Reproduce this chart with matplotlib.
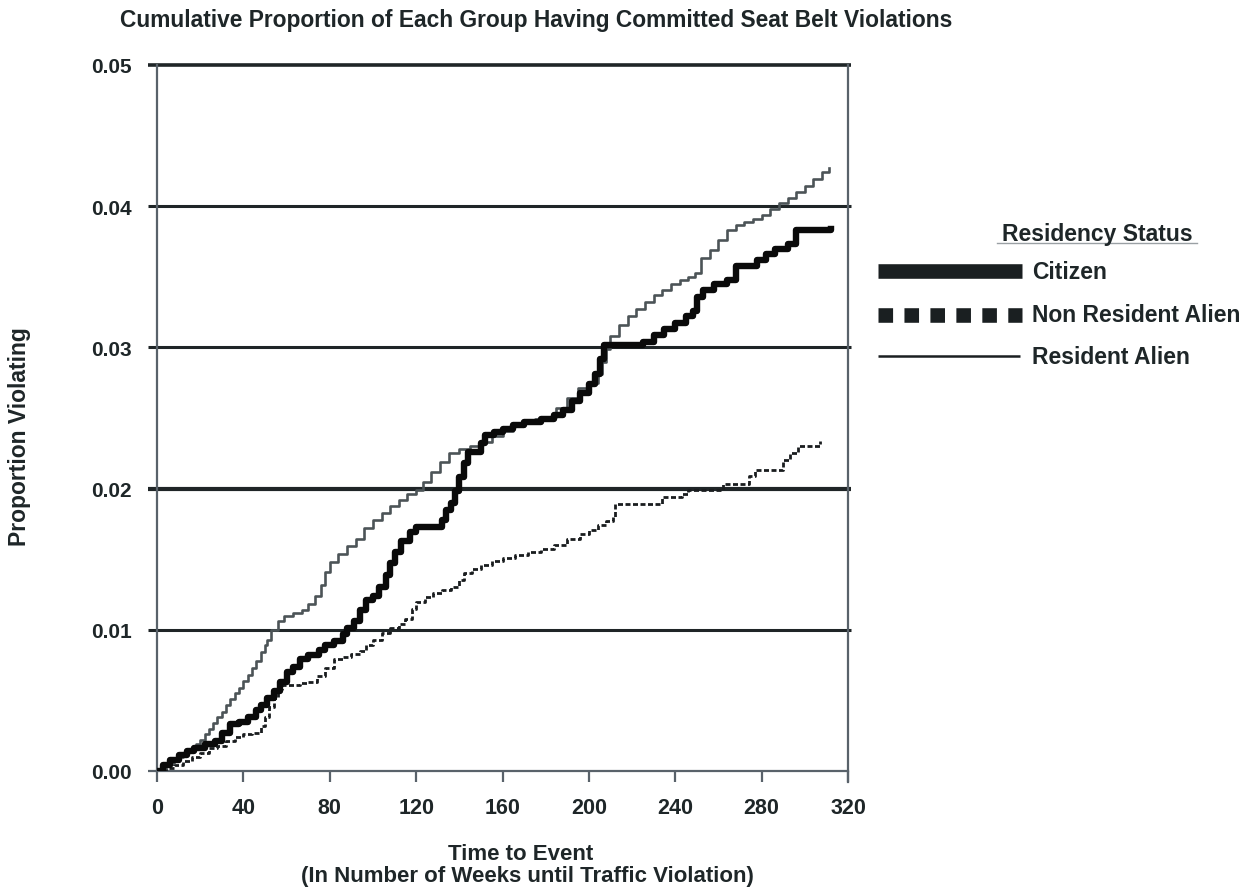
import matplotlib
matplotlib.use("Agg")
import matplotlib.pyplot as plt
from matplotlib.lines import Line2D

plt.rcParams['font.family'] = ['Liberation Sans', 'DejaVu Sans']
plt.rcParams['font.weight'] = 'bold'

TEXT = '#1e2628'
GRID = '#1f2527'
SPINE = '#59626a'

# Cumulative proportion violating, step curves (weeks, proportion)
citizen_weeks = [0, 3, 6, 10, 14, 17, 22, 27, 30, 34, 38, 42, 46, 48, 51, 54, 57, 60,
                 63, 66, 70, 75, 78, 82, 86, 88, 91, 94, 97, 100, 103, 106, 108, 110,
                 113, 117, 120, 132, 134, 136, 138, 140, 142, 144, 150, 152, 156, 160,
                 165, 170, 178, 184, 188, 192, 196, 200, 203, 205, 207, 225, 230, 235,
                 240, 245, 248, 250, 253, 258, 264, 268, 278, 282, 286, 292, 296, 312]
citizen_vals = [0.0, 0.0004, 0.0008, 0.0011, 0.0014, 0.0016, 0.0019, 0.0021, 0.0027,
                0.0033, 0.0035, 0.0038, 0.0043, 0.0047, 0.0052, 0.0057, 0.0063, 0.0070,
                0.0074, 0.0079, 0.0082, 0.0086, 0.0089, 0.0092, 0.0097, 0.0101, 0.0106,
                0.0114, 0.0121, 0.0124, 0.0130, 0.0139, 0.0147, 0.0155, 0.0163, 0.0169,
                0.0173, 0.0178, 0.0185, 0.0190, 0.0198, 0.0208, 0.0218, 0.0226, 0.0232,
                0.0238, 0.0240, 0.0242, 0.0245, 0.0247, 0.0249, 0.0252, 0.0256, 0.0262,
                0.0268, 0.0274, 0.0281, 0.0292, 0.0302, 0.0304, 0.0309, 0.0313, 0.0317,
                0.0322, 0.0326, 0.0336, 0.0341, 0.0345, 0.0348, 0.0358, 0.0362, 0.0366,
                0.0370, 0.0373, 0.0383, 0.0384]

nonres_weeks = [0, 4, 8, 12, 16, 20, 24, 28, 32, 36, 40, 44, 48, 50, 52, 54, 56, 58,
                66, 70, 74, 78, 82, 86, 90, 94, 97, 100, 104, 108, 112, 115, 118, 120,
                124, 128, 132, 136, 140, 142, 146, 150, 155, 160, 166, 172, 178, 184,
                190, 196, 200, 204, 208, 211, 212, 234, 243, 246, 262, 274, 277, 290,
                293, 297, 307]
nonres_vals = [0.0, 0.0002, 0.0004, 0.0007, 0.0010, 0.0013, 0.0016, 0.0018, 0.0021,
               0.0024, 0.0026, 0.0027, 0.0032, 0.0038, 0.0045, 0.0052, 0.0058, 0.0061,
               0.0062, 0.0063, 0.0067, 0.0073, 0.0079, 0.0081, 0.0083, 0.0085, 0.0089,
               0.0093, 0.0098, 0.0101, 0.0104, 0.0108, 0.0115, 0.0120, 0.0123, 0.0126,
               0.0128, 0.0130, 0.0135, 0.0140, 0.0143, 0.0146, 0.0149, 0.0151, 0.0153,
               0.0155, 0.0157, 0.0160, 0.0164, 0.0168, 0.0171, 0.0174, 0.0177, 0.0180,
               0.0189, 0.0194, 0.0196, 0.0199, 0.0203, 0.0209, 0.0213, 0.0220, 0.0225,
               0.0230, 0.0234]

resident_weeks = [0, 2, 4, 6, 8, 10, 12, 14, 16, 18, 20, 22, 24, 26, 28, 30, 32, 34,
                  36, 38, 40, 42, 44, 46, 48, 50, 51, 53, 56, 59, 63, 67, 70, 73, 76,
                  78, 80, 84, 88, 92, 96, 100, 104, 108, 112, 116, 120, 123, 127, 131,
                  135, 140, 145, 150, 155, 160, 165, 170, 175, 180, 185, 190, 195, 200,
                  204, 206, 208, 210, 214, 218, 222, 226, 230, 234, 238, 242, 246, 249,
                  252, 256, 260, 264, 268, 272, 276, 280, 284, 288, 292, 296, 300, 304,
                  308, 311]
resident_vals = [0.0, 0.0002, 0.0004, 0.0006, 0.0008, 0.0010, 0.0012, 0.0014, 0.0016,
                 0.0019, 0.0022, 0.0026, 0.0030, 0.0034, 0.0038, 0.0042, 0.0047, 0.0051,
                 0.0055, 0.0059, 0.0064, 0.0068, 0.0073, 0.0078, 0.0084, 0.0089, 0.0093,
                 0.0100, 0.0106, 0.0110, 0.0112, 0.0114, 0.0118, 0.0124, 0.0132, 0.0141,
                 0.0148, 0.0154, 0.0159, 0.0164, 0.0172, 0.0178, 0.0183, 0.0188, 0.0192,
                 0.0196, 0.0199, 0.0205, 0.0212, 0.0219, 0.0225, 0.0228, 0.0230, 0.0233,
                 0.0237, 0.0241, 0.0244, 0.0247, 0.0249, 0.0251, 0.0257, 0.0264, 0.0271,
                 0.0275, 0.0281, 0.0290, 0.0299, 0.0308, 0.0316, 0.0322, 0.0327, 0.0332,
                 0.0337, 0.0341, 0.0345, 0.0348, 0.0350, 0.0353, 0.0363, 0.0369, 0.0376,
                 0.0383, 0.0387, 0.0389, 0.0391, 0.0394, 0.0398, 0.0402, 0.0406, 0.0410,
                 0.0414, 0.0419, 0.0424, 0.0427]

x_ticks = [0, 40, 80, 120, 160, 200, 240, 280, 320]
y_ticks = [0.00, 0.01, 0.02, 0.03, 0.04, 0.05]
y_tick_labels = ['0.00', '0.01', '0.02', '0.03', '0.04', '0.05']

W, H = 1258, 895
fig = plt.figure(figsize=(W / 100, H / 100), dpi=100)
fig.patch.set_facecolor('white')
ax = fig.add_axes([157 / W, 1 - 772 / H, 691 / W, 706 / H])
ax.set_xlim(0, 320)
ax.set_ylim(0, 0.05)

# horizontal reference lines, slightly past the frame on both sides
grid_widths = {0.01: 2.2, 0.02: 3.0, 0.03: 2.2, 0.04: 2.2, 0.05: 2.6}
for yv, lw in grid_widths.items():
    ax.plot([-4.2, 321.5], [yv, yv], color=GRID, lw=lw, clip_on=False,
            solid_capstyle='butt', zorder=2)
# small outward tick at zero on the value axis
ax.plot([-4.2, 0], [0, 0], color=SPINE, lw=1.6, clip_on=False,
        solid_capstyle='butt', zorder=2)

ax.step(nonres_weeks, nonres_vals, where='post', color='#1a1d1f', lw=2.0,
        linestyle=(0, (1.8, 0.9)), zorder=3)
ax.step(resident_weeks, resident_vals, where='post', color='#4c5457', lw=1.9,
        zorder=4)
ax.step(citizen_weeks, citizen_vals, where='post', color='#0a0a0a', lw=4.6,
        zorder=5)

ax.spines['top'].set_visible(False)
for side in ('left', 'bottom', 'right'):
    ax.spines[side].set_color(SPINE)
    ax.spines[side].set_linewidth(1.6)
ax.spines['right'].set_bounds(-0.0008, 0.05)

ax.set_xticks(x_ticks)
ax.set_xticklabels([str(v) for v in x_ticks])
ax.set_yticks(y_ticks)
ax.set_yticklabels(y_tick_labels)
ax.tick_params(axis='x', direction='out', length=8, width=1.6, color=SPINE,
               labelsize=15.5, labelcolor=TEXT, pad=11)
ax.tick_params(axis='y', direction='out', length=0, labelsize=15,
               labelcolor=TEXT, pad=18)
for lbl in ax.get_xticklabels() + ax.get_yticklabels():
    lbl.set_fontweight('bold')

fig.text(120 / W, 1 - 20 / H,
         'Cumulative Proportion of Each Group Having Committed Seat Belt Violations',
         ha='left', va='center', fontsize=16.4, fontweight='bold', color=TEXT)
fig.text(20 / W, 1 - 437 / H, 'Proportion Violating', rotation=90,
         ha='center', va='center', fontsize=16.5, fontweight='bold', color=TEXT)
fig.text(521 / W, 1 - 855 / H, 'Time to Event', ha='center', va='center',
         fontsize=16, fontweight='bold', color=TEXT)
fig.text(527 / W, 1 - 877 / H, '(In Number of Weeks until Traffic Violation)',
         ha='center', va='center', fontsize=16, fontweight='bold', color=TEXT)

# legend drawn in figure pixels
def fx(px):
    return px / W

def fy(py):
    return 1 - py / H

fig.text(fx(1097), fy(234), 'Residency Status', ha='center', va='center',
         fontsize=16.5, fontweight='bold', color=TEXT)
fig.add_artist(Line2D([fx(997), fx(1197)], [fy(244), fy(244)], color='#9aa0a4',
                      lw=1.0))
fig.add_artist(Line2D([fx(878), fx(1022)], [fy(272), fy(272)], color='#1a1f21',
                      lw=10.5, solid_capstyle='butt'))
fig.add_artist(Line2D([fx(878), fx(1022)], [fy(316), fy(316)], color='#1a1f21',
                      lw=10.5, linestyle=(0, (1.0, 0.78)), dash_capstyle='butt'))
fig.add_artist(Line2D([fx(878), fx(1020)], [fy(357), fy(357)], color='#1a1f21',
                      lw=1.8, solid_capstyle='butt'))
for label, yy in [('Citizen', 273), ('Non Resident Alien', 316), ('Resident Alien', 358)]:
    fig.text(fx(1032), fy(yy), label, ha='left', va='center', fontsize=16.5,
             fontweight='bold', color=TEXT)

fig.savefig('out.png', dpi=100)
